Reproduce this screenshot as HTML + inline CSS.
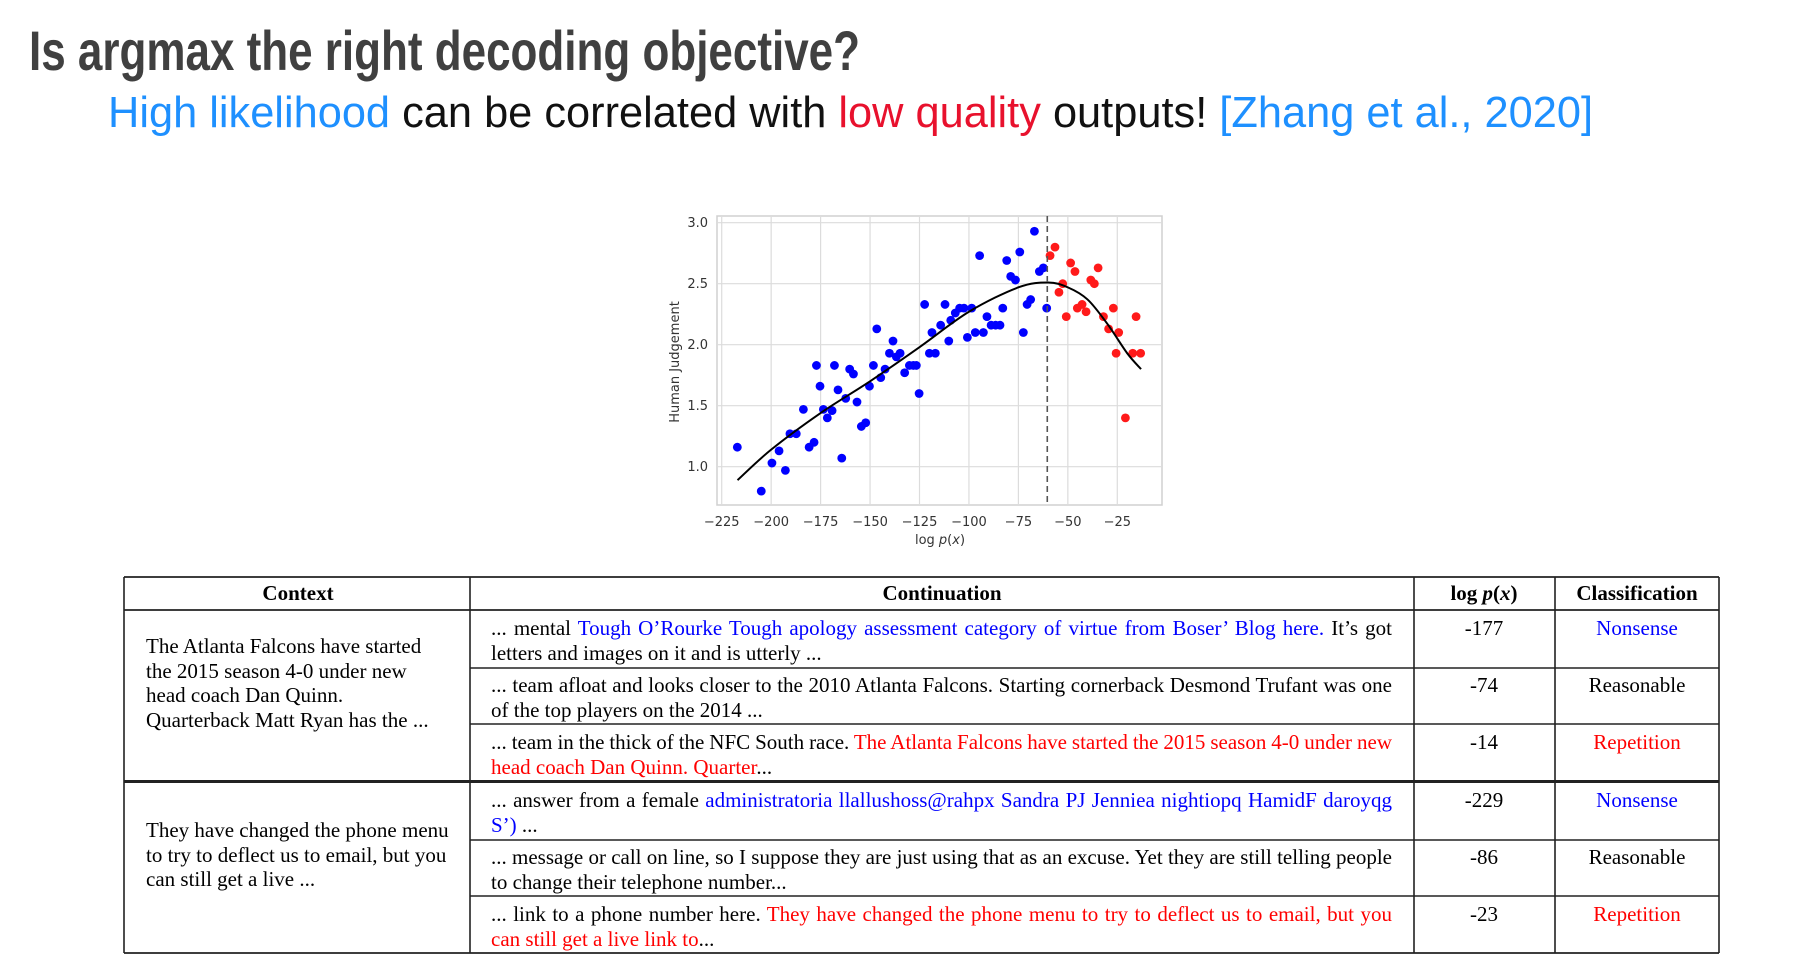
<!DOCTYPE html>
<html><head><meta charset="utf-8"><style>
html,body{margin:0;padding:0;background:#fff;}
#page{position:relative;width:1795px;height:970px;overflow:hidden;background:#fff;}
svg{position:absolute;left:0;top:0;}
.tx{position:absolute;font-family:"Liberation Serif",serif;font-size:21px;line-height:24.5px;color:#000;white-space:nowrap;}
.ln{white-space:nowrap;}
.b{color:#0000ff;} .r{color:#ff0000;}
.hd{font-weight:bold;}
.c{text-align:center;transform:translateX(-50%);}
</style></head><body>
<div id="page">
<svg width="1795" height="970">
  <text x="29" y="70" font-family="Liberation Sans, sans-serif" font-weight="bold" font-size="56" fill="#404040" textLength="831" lengthAdjust="spacingAndGlyphs">Is argmax the right decoding objective?</text>
  <text x="108" y="127" font-family="Liberation Sans, sans-serif" font-size="44" fill="#111" textLength="1485" lengthAdjust="spacingAndGlyphs"><tspan fill="#1E90FF">High likelihood</tspan> can be correlated with <tspan fill="#E8112D">low quality</tspan> outputs! <tspan fill="#1E90FF">[Zhang et al., 2020]</tspan></text>
</svg>
<svg id="chart" width="1795" height="970"></svg>
<svg id="tbl" width="1795" height="970"></svg>

<div class="tx hd c" style="left:298px;top:581px">Context</div>
<div class="tx hd c" style="left:942px;top:581px">Continuation</div>
<div class="tx hd c" style="left:1484px;top:581px">log <i>p</i>(<i>x</i>)</div>
<div class="tx hd c" style="left:1637px;top:581px">Classification</div>

<div class="tx" style="left:146px;top:634px">The Atlanta Falcons have started<br>the 2015 season 4-0 under new<br>head coach Dan Quinn.<br>Quarterback Matt Ryan has the ...</div>
<div class="tx" style="left:146px;top:818px">They have changed the phone menu<br>to try to deflect us to email, but you<br>can still get a live ...</div>

<div class="tx" style="left:491px;top:616px"><div class="ln j">... mental <span class="b">Tough O’Rourke Tough apology assessment category of virtue from Boser’ Blog here.</span> It’s got</div><div class="ln">letters and images on it and is utterly ...</div></div>
<div class="tx" style="left:491px;top:673px"><div class="ln j">... team afloat and looks closer to the 2010 Atlanta Falcons. Starting cornerback Desmond Trufant was one</div><div class="ln">of the top players on the 2014 ...</div></div>
<div class="tx" style="left:491px;top:730px"><div class="ln j">... team in the thick of the NFC South race. <span class="r">The Atlanta Falcons have started the 2015 season 4-0 under new</span></div><div class="ln"><span class="r">head coach Dan Quinn. Quarter</span>...</div></div>
<div class="tx" style="left:491px;top:788px"><div class="ln j">... answer from a female <span class="b">administratoria llallushoss@rahpx Sandra PJ Jenniea nightiopq HamidF daroyqg</span></div><div class="ln"><span class="b">S’)</span> ...</div></div>
<div class="tx" style="left:491px;top:845px"><div class="ln j">... message or call on line, so I suppose they are just using that as an excuse. Yet they are still telling people</div><div class="ln">to change their telephone number...</div></div>
<div class="tx" style="left:491px;top:902px"><div class="ln j">... link to a phone number here. <span class="r">They have changed the phone menu to try to deflect us to email, but you</span></div><div class="ln"><span class="r">can still get a live link to</span>...</div></div>

<div class="tx c" style="left:1484px;top:616px">-177</div>
<div class="tx c" style="left:1484px;top:673px">-74</div>
<div class="tx c" style="left:1484px;top:730px">-14</div>
<div class="tx c" style="left:1484px;top:788px">-229</div>
<div class="tx c" style="left:1484px;top:845px">-86</div>
<div class="tx c" style="left:1484px;top:902px">-23</div>

<div class="tx c b" style="left:1637px;top:616px">Nonsense</div>
<div class="tx c" style="left:1637px;top:673px">Reasonable</div>
<div class="tx c r" style="left:1637px;top:730px">Repetition</div>
<div class="tx c b" style="left:1637px;top:788px">Nonsense</div>
<div class="tx c" style="left:1637px;top:845px">Reasonable</div>
<div class="tx c r" style="left:1637px;top:902px">Repetition</div>
</div>

<script>
const blueX = [-217.1,-205,-199.6,-196,-192.8,-190.5,-187.3,-183.7,-180.8,-178.3,-177.1,-175.3,-173.6,-171.6,-169.2,-168,-166.2,-164.3,-162.3,-160.3,-158.4,-156.6,-154.4,-152.2,-150.3,-148.3,-146.6,-144.6,-142.4,-140.2,-138.4,-136.7,-134.8,-132.5,-130.1,-128.1,-126.6,-125.2,-122.4,-120,-118.7,-117,-114.3,-112.1,-110.2,-109.2,-106.9,-104.7,-102.5,-100.8,-98.6,-96.8,-94.6,-92.7,-90.9,-88.8,-86.5,-84.3,-82.9,-80.9,-78.9,-76.5,-74.3,-72.5,-70.6,-68.8,-66.9,-64.4,-62.4,-60.7];
const blueY = [1.16,0.80,1.03,1.13,0.97,1.27,1.27,1.47,1.16,1.20,1.83,1.66,1.47,1.40,1.46,1.83,1.63,1.07,1.56,1.80,1.76,1.53,1.33,1.36,1.66,1.83,2.13,1.73,1.80,1.93,2.03,1.90,1.93,1.77,1.83,1.83,1.83,1.60,2.33,1.93,2.10,1.93,2.16,2.33,2.03,2.20,2.26,2.30,2.30,2.06,2.30,2.10,2.73,2.10,2.23,2.16,2.16,2.16,2.30,2.69,2.56,2.53,2.76,2.10,2.33,2.37,2.93,2.60,2.63,2.30];
const redX = [-59,-56.5,-54.5,-52.6,-50.8,-48.6,-46.4,-45.2,-42.8,-40.8,-38.4,-36.6,-34.7,-32,-29.4,-27,-25.6,-24.3,-20.9,-17.2,-15.5,-13.2];
const redY = [2.73,2.80,2.43,2.50,2.23,2.67,2.60,2.30,2.33,2.27,2.53,2.50,2.63,2.23,2.13,2.30,1.93,2.10,1.40,1.93,2.23,1.93];
const fitX = [-217,-200,-175,-150,-125,-100,-75,-60,-50,-40,-30,-20,-13];
const fitY = [0.89,1.14,1.44,1.70,1.98,2.27,2.47,2.51,2.47,2.37,2.17,1.93,1.80];
const peakX = -60.4;
const xTicks = [-225,-200,-175,-150,-125,-100,-75,-50,-25];
const yTicks = [1.0,1.5,2.0,2.5,3.0];

const NS='http://www.w3.org/2000/svg';
const ch=document.getElementById('chart');
const sx=v=>721.7+(v+225)*1.978;
const sy=v=>222.7+(3-v)*122;
const PL=717,PR=1162,PT=216,PB=505;
function mk(tag,at,parent){const e=document.createElementNS(NS,tag);for(const k in at)e.setAttribute(k,at[k]);(parent||ch).appendChild(e);return e;}

const frame=mk('rect',{x:PL,y:PT,width:PR-PL,height:PB-PT,fill:'#fff',stroke:'#d0d0d0','stroke-width':1.5});


xTicks.forEach(t=>{
  const g=mk('line',{x1:sx(t),x2:sx(t),y1:PT,y2:PB,stroke:'#dcdcdc','stroke-width':1.2});
  
  
  const l=mk('text',{x:sx(t),y:526,'text-anchor':'middle','font-family':'DejaVu Sans, sans-serif','font-size':13,fill:'#333'});
  l.textContent=String(t).replace('-','\u2212');
  
  
});
yTicks.forEach(t=>{
  const g=mk('line',{x1:PL,x2:PR,y1:sy(t),y2:sy(t),stroke:'#dcdcdc','stroke-width':1.2});
  
  
  const l=mk('text',{x:708,y:sy(t)+4.5,'text-anchor':'end','font-family':'DejaVu Sans, sans-serif','font-size':13,fill:'#333'});
  l.textContent=t.toFixed(1);
  
  
});
const xt=mk('text',{x:940,y:544,'text-anchor':'middle','font-family':'DejaVu Sans, sans-serif','font-size':13,fill:'#333'});
xt.innerHTML='log <tspan font-style="italic">p</tspan>(<tspan font-style="italic">x</tspan>)';


const yt=mk('text',{x:0,y:0,'text-anchor':'middle','font-family':'DejaVu Sans, sans-serif','font-size':13,fill:'#333',transform:'translate(679,362) rotate(-90)'});
yt.textContent='Human Judgement';



blueX.forEach((x,i)=>{
  const c=mk('circle',{cx:sx(x),cy:sy(blueY[i]),r:4.4,fill:'#0000ff'});
  
  
});
redX.forEach((x,i)=>{
  const c=mk('circle',{cx:sx(x),cy:sy(redY[i]),r:4.4,fill:'#ff1a1a'});
  
  
});
const P=fitX.map((x,i)=>[sx(x),sy(fitY[i])]);
let d='M'+P[0][0]+','+P[0][1];
for(let i=0;i<P.length-1;i++){
  const p0=P[i-1]||P[i],p1=P[i],p2=P[i+1],p3=P[i+2]||P[i+1];
  const c1=[p1[0]+(p2[0]-p0[0])/6,p1[1]+(p2[1]-p0[1])/6];
  const c2=[p2[0]-(p3[0]-p1[0])/6,p2[1]-(p3[1]-p1[1])/6];
  d+=' C'+c1+' '+c2+' '+p2;
}
const fit=mk('path',{d:d,fill:'none',stroke:'#000','stroke-width':2});


const dl=mk('line',{x1:sx(peakX),x2:sx(peakX),y1:PT,y2:PB,stroke:'#555','stroke-width':1.6,'stroke-dasharray':'6,4'});



const tb=document.getElementById('tbl');
function ln(x1,y1,x2,y2,w,name){const e=mk('line',{x1,y1,x2,y2,stroke:'#222','stroke-width':w},tb);
  
  }
ln(124,577,1719,577,1.8,'table-top-border');
ln(124,610,1719,610,1.8,'header-border');
[668,724,840,896].forEach(y=>ln(470,y,1719,y,1.6,'row-border'));
ln(124,781.5,1719,781.5,3,'group-border');
ln(124,953,1719,953,1.8,'table-bottom-border');
[124,470,1414,1555,1719].forEach(x=>ln(x,577,x,953,1.6,'column-border'));

document.querySelectorAll('.ln.j').forEach(el=>{
  const target=901;
  el.style.display='inline-block';
  const w=el.getBoundingClientRect().width;
  const spaces=(el.textContent.match(/ /g)||[]).length;
  if(spaces>0) el.style.wordSpacing=((target-w)/spaces)+'px';
  el.style.display='block';
});
</script>
</body></html>
